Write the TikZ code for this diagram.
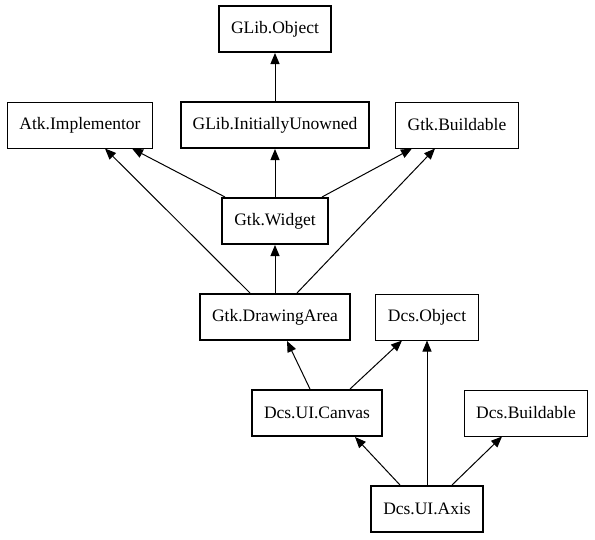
\documentclass[tikz,border=0pt]{standalone}
\usepackage{fontspec}
\setmainfont{Liberation Serif}
\usetikzlibrary{arrows.meta}
\begin{document}
\begin{tikzpicture}[x=1pt,y=-1pt,
  box/.style={rectangle, draw=black, fill=white, minimum height=46pt, inner xsep=12pt, font=\fontsize{17.5}{20}\selectfont},
  cls/.style={box, line width=2pt},
  iface/.style={box, line width=1pt},
  inh/.style={-{Triangle[length=11pt,width=9pt]}, line width=1pt}]
\useasboundingbox (0,0) rectangle (595,539);
\node [cls] (obj) at (275,29) {GLib.Object};
\node [iface] (atk) at (80,125) {Atk.Implementor};
\node [cls] (init) at (275,125) {GLib.InitiallyUnowned};
\node [iface] (gbld) at (457,125) {Gtk.Buildable};
\node [cls] (wid) at (275,221) {Gtk.Widget};
\node [cls] (area) at (275,317) {Gtk.DrawingArea};
\node [iface] (dobj) at (427,317) {Dcs.Object};
\node [cls] (canv) at (317,413) {Dcs.UI.Canvas};
\node [iface] (dbld) at (526,413) {Dcs.Buildable};
\node [cls] (axis) at (427,509) {Dcs.UI.Axis};
\draw [inh] (init.north) -- (obj.south);
\draw [inh] ([xshift=-50]wid.north) -- ([xshift=52]atk.south);
\draw [inh] (wid.north) -- (init.south);
\draw [inh] ([xshift=47]wid.north) -- ([xshift=-45]gbld.south);
\draw [inh] ([xshift=-25]area.north) -- ([xshift=25]atk.south);
\draw [inh] (area.north) -- (wid.south);
\draw [inh] ([xshift=22]area.north) -- ([xshift=-22]gbld.south);
\draw [inh] ([xshift=-7]canv.north) -- ([xshift=12]area.south);
\draw [inh] ([xshift=33]canv.north) -- ([xshift=-25]dobj.south);
\draw [inh] ([xshift=-27]axis.north) -- ([xshift=38]canv.south);
\draw [inh] (axis.north) -- (dobj.south);
\draw [inh] ([xshift=25]axis.north) -- ([xshift=-24]dbld.south);
\end{tikzpicture}
\end{document}
